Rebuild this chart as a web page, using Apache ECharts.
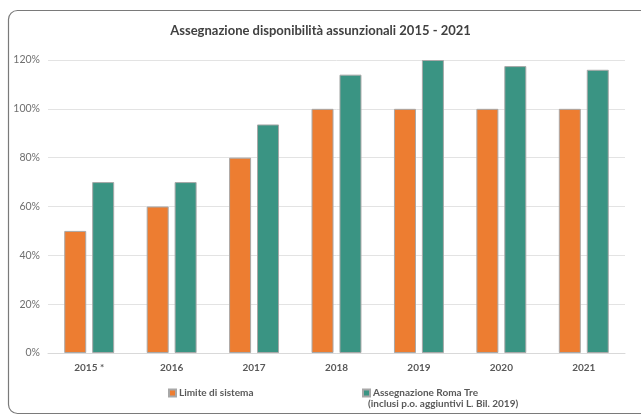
<!DOCTYPE html>
<html>
<head>
<meta charset="utf-8">
<script src="https://cdn.jsdelivr.net/npm/echarts@6/dist/echarts.min.js"></script>
<style>
  html, body { margin: 0; padding: 0; background: #ffffff; }
  #chart { width: 641px; height: 415px; }
</style>
</head>
<body>
<div id="chart"></div>
<script>
// Hiring capacity per year, as a percentage
const categories = ['2015 *', '2016', '2017', '2018', '2019', '2020', '2021'];
const limiteSistema = [50, 60, 80, 100, 100, 100, 100];
const assegnazioneRomaTre = [70, 70, 93.6, 114, 120, 117.5, 116];
const yTicks = { min: 0, max: 120, interval: 20 };

const seriesNames = ['Limite di sistema', 'Assegnazione Roma Tre'];
const legendNote = '(inclusi p.o. aggiuntivi L. Bil. 2019)';

const font = 'Lato, "Open Sans", sans-serif';
const chart = echarts.init(document.getElementById('chart'), null, { renderer: 'canvas' });

chart.setOption({
  backgroundColor: '#ffffff',
  animation: false,
  title: {
    text: 'Assegnazione disponibilità assunzionali 2015 - 2021',
    left: 'center',
    top: 19,
    textStyle: { fontFamily: font, fontSize: 13, fontWeight: 'bold', color: '#404040' }
  },
  graphic: [
    {
      type: 'rect',
      shape: { x: 8.5, y: 10.5, width: 645, height: 403, r: 9 },
      style: { fill: 'none', stroke: '#7a7a7a', lineWidth: 1.2 },
      silent: true
    },
    {
      type: 'text',
      left: 368,
      top: 399,
      style: { text: legendNote, fontFamily: font, fontSize: 10, fontWeight: 'bold', fill: '#595959' }
    }
  ],
  legend: [
    {
      data: [seriesNames[0]],
      left: 163, top: 383,
      icon: 'rect', itemWidth: 7, itemHeight: 7, itemGap: 0,
      textStyle: { fontFamily: font, fontSize: 10, fontWeight: 'bold', color: '#595959', padding: [0, 0, 0, -2] }
    },
    {
      data: [seriesNames[1]],
      left: 357, top: 383,
      icon: 'rect', itemWidth: 7, itemHeight: 7, itemGap: 0,
      textStyle: { fontFamily: font, fontSize: 10, fontWeight: 'bold', color: '#595959', padding: [0, 0, 0, -2] }
    }
  ],
  grid: { left: 48, right: 16, top: 60, bottom: 62, containLabel: false },
  xAxis: {
    type: 'category',
    data: categories,
    axisLine: { show: true, lineStyle: { color: '#d9d9d9', width: 1 } },
    axisTick: { show: false },
    axisLabel: { fontFamily: font, fontSize: 10, fontWeight: 'bold', color: '#595959', margin: 10 }
  },
  yAxis: {
    type: 'value',
    min: yTicks.min, max: yTicks.max, interval: yTicks.interval,
    axisLine: { show: false },
    axisTick: { show: false },
    splitLine: { lineStyle: { color: '#e3e3e3', width: 1 } },
    axisLabel: {
      fontFamily: font, fontSize: 10.5, color: '#6f6f6f', margin: 8,
      formatter: v => v + '%'
    }
  },
  series: [
    {
      name: seriesNames[0],
      type: 'bar',
      data: limiteSistema,
      barWidth: 22,
      barGap: '27%',
      itemStyle: { color: '#ED7D31', borderColor: '#a8a8a8', borderWidth: 1 }
    },
    {
      name: seriesNames[1],
      type: 'bar',
      data: assegnazioneRomaTre,
      barWidth: 22,
      itemStyle: { color: '#3A9483', borderColor: '#a8a8a8', borderWidth: 1 }
    }
  ]
});
</script>
</body>
</html>
